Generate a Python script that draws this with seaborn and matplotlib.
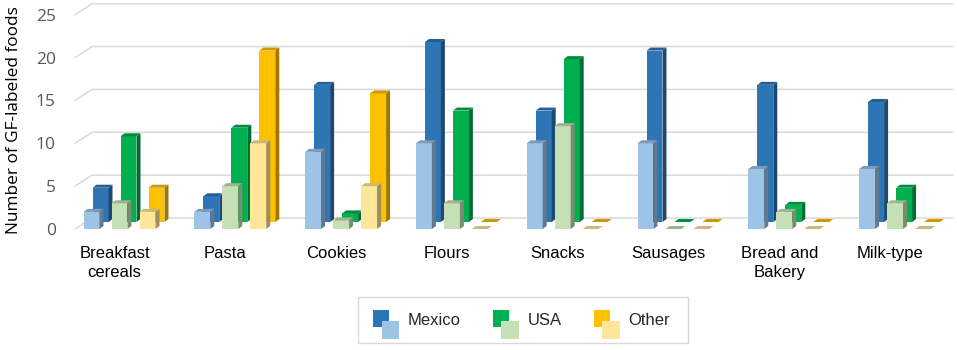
import numpy as np
import pandas as pd
import seaborn as sns
import matplotlib.pyplot as plt
from matplotlib.patches import Polygon, Rectangle
from matplotlib.lines import Line2D
from matplotlib.transforms import ScaledTranslation, IdentityTransform

# categories and countries
categories = ['Breakfast\ncereals', 'Pasta', 'Cookies', 'Flours', 'Snacks',
              'Sausages', 'Bread and\nBakery', 'Milk-type']
countries = ['Mexico', 'USA', 'Other']

# back row (dark colours)
back_mexico = [4, 3, 16, 21, 13, 20, 16, 14]
back_usa = [10, 11, 1, 13, 19, 0, 2, 4]
back_other = [4, 20, 15, 0, 0, 0, 0, 0]

# front row (light colours)
front_mexico = [2, 2, 9, 10, 10, 10, 7, 7]
front_usa = [3, 5, 1, 3, 12, 0, 2, 3]
front_other = [2, 10, 5, 0, 0, 0, 0, 0]

dark_colors = ['#2e75b6', '#00b050', '#ffc000']
light_colors = ['#9dc3e6', '#c5e0b4', '#ffe699']


def make_frame(mex, usa, oth):
    rows = []
    for vals, c in zip([mex, usa, oth], countries):
        for cat, v in zip(categories, vals):
            rows.append({'category': cat, 'country': c, 'value': v})
    return pd.DataFrame(rows)


df_back = make_frame(back_mexico, back_usa, back_other)
df_front = make_frame(front_mexico, front_usa, front_other)

sns.set_style('white')
fig = plt.figure(figsize=(9.57, 3.5), dpi=100)
ax = fig.add_axes([0.067, 0.3457, 0.9262, 0.6123])

# back row, shifted right/up to fake depth
n0 = len(ax.patches)
sns.barplot(data=df_back, x='category', y='value', hue='country',
            palette=dark_colors, saturation=1, width=0.758, gap=0.43,
            legend=False, ax=ax, zorder=2)
back_patches = ax.patches[n0:]
shift = ScaledTranslation(9 / 100, 7 / 100, fig.dpi_scale_trans)
for p in back_patches:
    p.set_transform(ax.transData + shift)
    p.set_edgecolor('none')

n1 = len(ax.patches)
sns.barplot(data=df_front, x='category', y='value', hue='country',
            palette=light_colors, saturation=1, width=0.758, gap=0.43,
            legend=False, ax=ax, zorder=3)
front_patches = ax.patches[n1:]
for p in front_patches:
    p.set_edgecolor('none')

ax.set_xlim(-0.5, 7.5)
ax.set_ylim(0, 25)


def shade(c, f):
    c = np.array(c[:3])
    return tuple(np.clip(c * f, 0, 1))


# side and top faces of every bar (display pixels)
dx, dy = 4, 3
for patches, z in [(back_patches, 2), (front_patches, 3)]:
    for p in patches:
        tr = p.get_data_transform()
        x0, y0 = tr.transform((p.get_x(), p.get_y()))
        x1, y1 = tr.transform((p.get_x() + p.get_width(), p.get_y() + p.get_height()))
        fc = p.get_facecolor()
        side = Polygon([(x1, y0), (x1 + dx, y0 + dy), (x1 + dx, y1 + dy), (x1, y1)],
                       closed=True, facecolor=shade(fc, 0.62), edgecolor='none',
                       transform=IdentityTransform(), zorder=z)
        top = Polygon([(x0, y1), (x1, y1), (x1 + dx, y1 + dy), (x0 + dx, y1 + dy)],
                      closed=True, facecolor=shade(fc, 0.8), edgecolor='none',
                      transform=IdentityTransform(), zorder=z)
        for a in (side, top):
            ax.add_artist(a)
            a.set_clip_on(False)

# back-wall gridlines with slanted floor edge
ticks = [0, 5, 10, 15, 20, 25]
xl = ax.transData.transform((-0.5, 0))[0] + 11
xr = fig.bbox.width - 4
for v in ticks:
    yf = ax.transData.transform((0, v))[1]
    ln = Line2D([xl, xl + 17, xr], [yf, yf + 11, yf + 11], color='#d9d9d9',
                lw=1.1, transform=IdentityTransform(), zorder=1)
    ax.add_artist(ln)
    ln.set_clip_on(False)

sns.despine(ax=ax, left=True, bottom=True)
ax.set_yticks(ticks)
ax.set_yticklabels([str(t) for t in ticks], family='Open Sans', fontsize=12.5,
                   color='#595959')
ax.tick_params(axis='y', length=0, pad=6)
ax.set_xticks(range(len(categories)))
ax.set_xticklabels(categories, family='Liberation Sans', fontsize=12, color='black',
                   linespacing=1.4)
ax.tick_params(axis='x', length=0, pad=12)
off = ScaledTranslation(-5 / 100, 0, fig.dpi_scale_trans)
for lab in ax.get_xticklabels():
    lab.set_transform(lab.get_transform() + off)
ax.set_xlabel('')
ax.set_ylabel('Number of GF-labeled foods', family='Open Sans', fontsize=12.4,
              color='black')
ax.yaxis.set_label_coords(-0.0475, 0.51)
ax.grid(False)


# legend with paired squares
class PairHandler:
    def __init__(self, dark, light):
        self.dark = dark
        self.light = light

    def legend_artist(self, legend, orig_handle, fontsize, handlebox):
        x0, y0 = handlebox.xdescent, handlebox.ydescent
        c = y0 + handlebox.height / 2 - 10
        r1 = Rectangle((x0, c - 3.5), 11.5, 12.5, facecolor=self.dark,
                       edgecolor='none', transform=handlebox.get_transform())
        r2 = Rectangle((x0 + 6, c - 12.5), 12.5, 13.5, facecolor=self.light,
                       edgecolor='none', transform=handlebox.get_transform())
        handlebox.add_artist(r1)
        handlebox.add_artist(r2)
        return r1


handles = [Rectangle((0, 0), 1, 1) for _ in countries]
hmap = {h: PairHandler(d, l) for h, d, l in zip(handles, dark_colors, light_colors)}
leg = fig.legend(handles, countries, handler_map=hmap, ncol=3,
                 loc='center', bbox_to_anchor=(0.545, 0.086),
                 prop={'family': 'Liberation Sans', 'size': 12},
                 handlelength=1.5, handleheight=1.7, handletextpad=0.55,
                 columnspacing=1.95, frameon=False)

# legend frame
fig.add_artist(Rectangle((358 / 957, 7 / 350), 330 / 957, 46 / 350,
                         transform=fig.transFigure, facecolor='none',
                         edgecolor='#d9d9d9', lw=1.0))

fig.savefig('out.png', dpi=100)
